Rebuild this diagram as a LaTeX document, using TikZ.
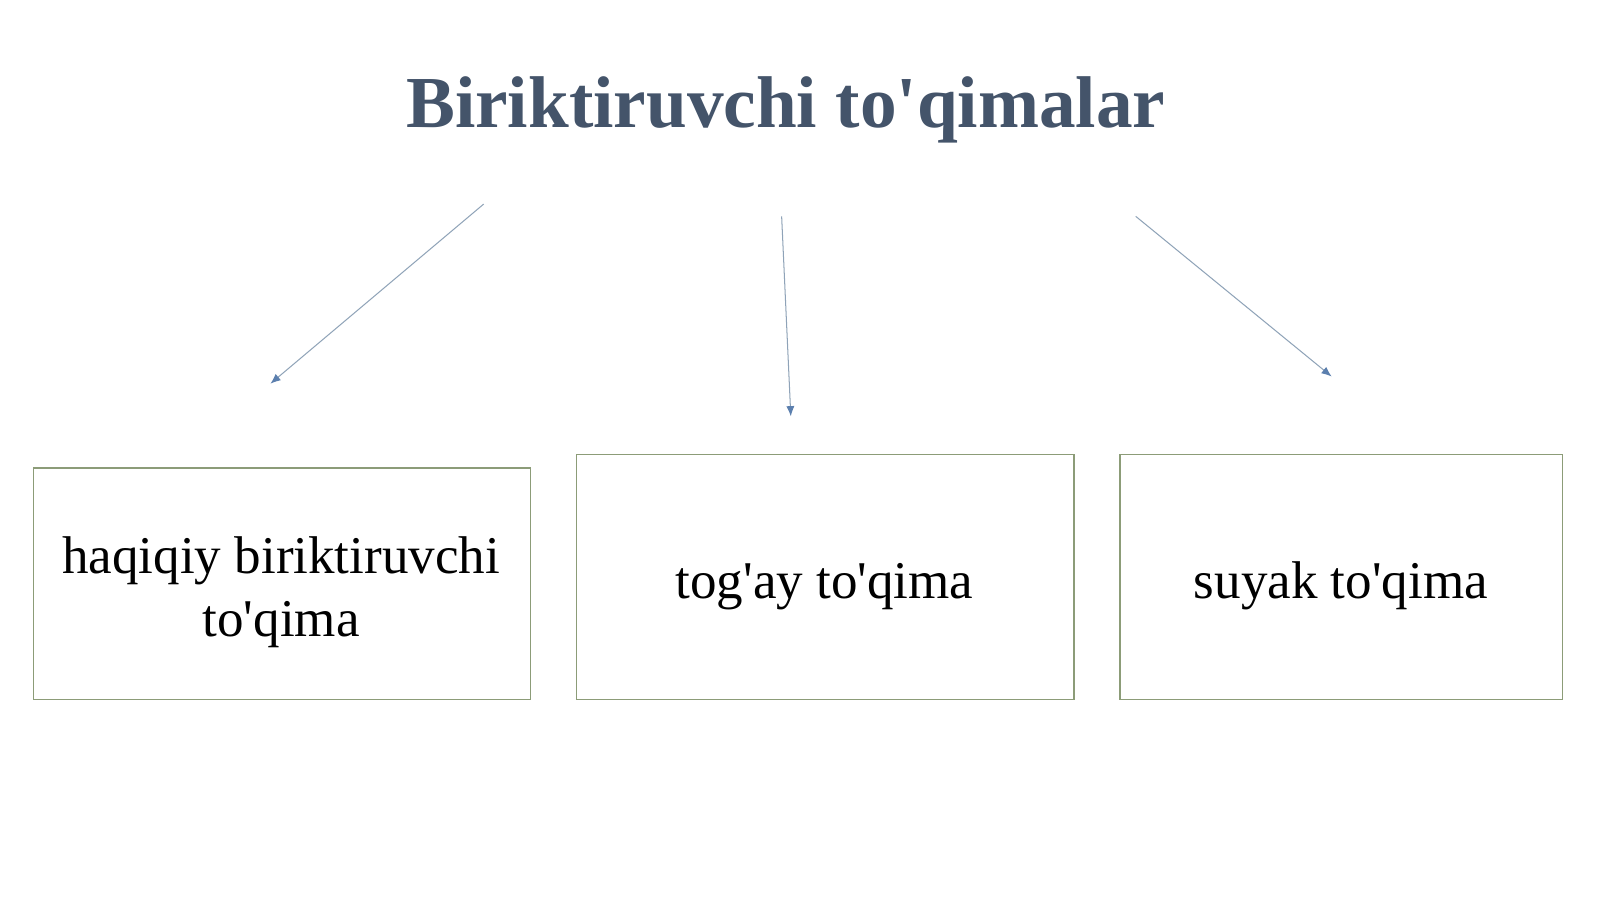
\documentclass[tikz,border=0pt]{standalone}
\usepackage{fontspec}
\setmainfont{Liberation Serif}[Ligatures=TeXOff]
\usetikzlibrary{arrows.meta}
\definecolor{titlec}{HTML}{44546A}
\definecolor{linec}{HTML}{8FA3B8}
\definecolor{tipc}{HTML}{5B7FAE}
\definecolor{boxc}{HTML}{8C9C78}
\tikzset{
  box/.style={draw=boxc, line width=1.2pt, inner sep=0pt, anchor=north west},
  boxtext/.style={inner sep=0pt, anchor=base, align=center, font=\fontsize{52}{62}\selectfont},
  conn/.style={draw=linec, line width=1pt, -{Latex[length=10pt,width=8pt,fill=tipc,color=tipc]}},
}
\begin{document}
\begin{tikzpicture}[x=1pt,y=-1pt]
\useasboundingbox (0,0) rectangle (1568,881);
\fill[white] (0,0) rectangle (1568,881);
\node[font=\fontsize{71.8}{80}\selectfont\bfseries, text=titlec, anchor=base] (title) at (770,125) {Biriktiruvchi to'qimalar};
\node[box, minimum width=487pt, minimum height=227pt] (b1) at (32,458) {};
\node[box, minimum width=488pt, minimum height=240pt] (b2) at (564,445) {};
\node[box, minimum width=434pt, minimum height=240pt] (b3) at (1097,445) {};
\node[boxtext] (t1a) at (275.5,562) {haqiqiy biriktiruvchi};
\node[boxtext] (t1b) at (275.5,624) {to'qima};
\node[boxtext] (t2) at (808,587) {tog'ay to'qima};
\node[boxtext] (t3) at (1314,587) {suyak to'qima};
\coordinate (s1) at (474,200);
\coordinate (e1) at (265,376);
\coordinate (s2) at (766,212);
\coordinate (e2) at (775,408);
\coordinate (s3) at (1113,212);
\coordinate (e3) at (1305,369);
\draw[conn] (s1) -- (e1);
\draw[conn] (s2) -- (e2);
\draw[conn] (s3) -- (e3);
\end{tikzpicture}
\end{document}
